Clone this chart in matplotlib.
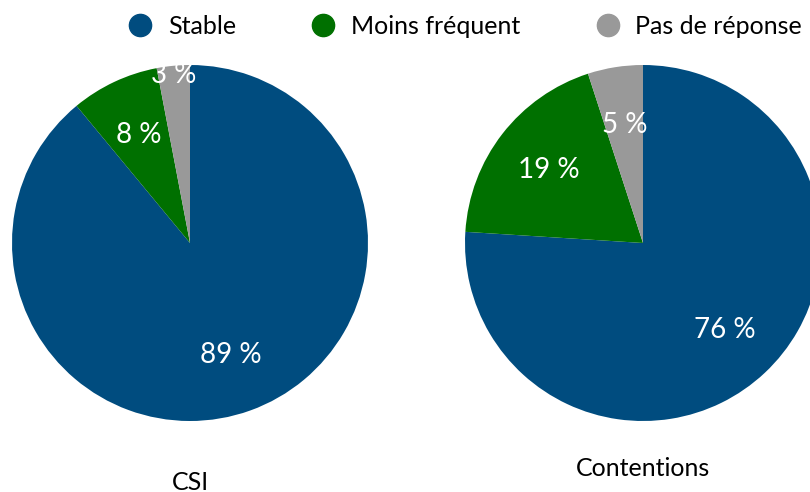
import matplotlib.pyplot as plt
from matplotlib.lines import Line2D

plt.rcParams['font.family'] = ['Lato', 'DejaVu Sans']

categories = ['Stable', 'Moins fréquent', 'Pas de réponse']
colors = ['#004C7F', '#007000', '#999999']
csi = [89, 8, 3]
contentions = [76, 19, 5]
titles = ['CSI', 'Contentions']

W, H = 810, 492
fig = plt.figure(figsize=(W / 100, H / 100), dpi=100)
ax = fig.add_axes([0, 0, 1, 1])

R = 178
pies = [
    (csi, (190, H - 243), [0.67, 0.67, 0.95], (190, H - 482)),
    (contentions, (643, H - 243), [0.67, 0.67, 0.67], (643, H - 468)),
]

for (vals, center, dists, tpos), title in zip(pies, titles):
    wedges, texts, autotexts = ax.pie(
        vals, colors=colors, startangle=90, counterclock=False,
        center=center, radius=R, autopct='%d %%', pctdistance=0.67,
        textprops=dict(color='white', fontsize=20), frame=True)
    for t, d in zip(autotexts, dists):
        x, y = t.get_position()
        t.set_position((center[0] + (x - center[0]) * d / 0.67,
                        center[1] + (y - center[1]) * d / 0.67))
    ax.text(tpos[0], tpos[1], title, ha='center', va='center', fontsize=18)

ax.set_xlim(0, W)
ax.set_ylim(0, H)
ax.set_aspect('equal')
ax.axis('off')

handles = [Line2D([], [], marker='o', ls='', color=c, markersize=16) for c in colors]
fig.legend(handles, categories, loc='center', bbox_to_anchor=(0.566, 1 - 26 / H),
           ncol=3, frameon=False, fontsize=18, handletextpad=0.1,
           columnspacing=2.5)

fig.savefig('out.png', dpi=100)
